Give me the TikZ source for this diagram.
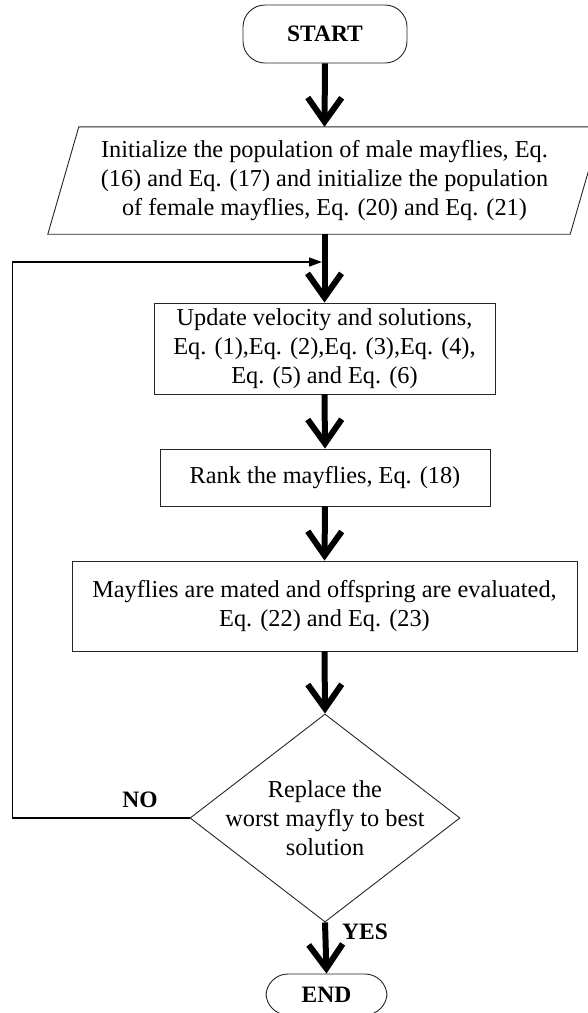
\documentclass[tikz,border=0pt]{standalone}
\usepackage{fontspec}
\setmainfont{Liberation Serif}
\usetikzlibrary{arrows.meta,shapes.geometric,calc}
\begin{document}
\begin{tikzpicture}[x=1pt,y=-1pt,
  boxline/.style={draw=black!85,line width=0.9pt},
  box/.style={boxline,inner sep=0pt,align=center,font=\fontsize{24.3}{29.3}\selectfont},
  plain/.style={inner sep=0pt,align=center,font=\fontsize{24.3}{29.3}\selectfont},
  term/.style={boxline,rounded corners=22pt,inner sep=0pt,font=\fontsize{23.5}{28}\selectfont\bfseries},
  flow/.style={line width=6pt,-{Straight Barb[length=24pt,width=34pt]}},
  back/.style={line width=1.6pt,-{Triangle[length=13pt,width=9pt]}},
  lbl/.style={font=\fontsize{23.5}{28}\selectfont\bfseries,inner sep=0pt}
]
\useasboundingbox (0,0) rectangle (587,1013);
\node[term,minimum width=164pt,minimum height=58pt] (start) at (325,34) {START};
\node[plain,minimum width=553pt,minimum height=107pt] (init) at (324.5,180.5)
  {Initialize the population of male mayflies, Eq.\\(16) and Eq. (17) and initialize the population\\of female mayflies, Eq. (20) and Eq. (21)};
\draw[boxline] (init.south west) -- ($(init.north west)+(31,0)$) -- (init.north east) -- ($(init.south east)+(-31,0)$) -- cycle;
\node[box,minimum width=341pt,minimum height=91pt] (upd) at (324.5,348.5)
  {Update velocity and solutions,\\Eq. (1),Eq. (2),Eq. (3),Eq. (4),\\Eq. (5) and Eq. (6)};
\node[box,minimum width=330pt,minimum height=57pt] (rank) at (325,477.5) {Rank the mayflies, Eq. (18)};
\node[box,minimum width=505pt,minimum height=90pt] (mate) at (324.5,606)
  {Mayflies are mated and offspring are evaluated,\\Eq. (22) and Eq. (23)};
\node[boxline,shape=diamond,minimum width=270pt,minimum height=208pt,inner sep=0pt] (dec) at (325,818) {};
\node[plain] (dectext) at (dec.center) {Replace the\\worst mayfly to best\\solution};
\node[term,minimum width=121pt,minimum height=41pt] (end) at (326.5,994.5) {END};
\coordinate (join) at (322,262);
\draw[flow] (start.south) -- (init.north);
\draw[flow] (init.south) -- (upd.north);
\draw[flow] (upd.south) -- (rank.north);
\draw[flow] (rank.south) -- (mate.north);
\draw[flow] (mate.south) -- (dec.north);
\draw[flow] (dec.south) -- (end.north);
\draw[back] (dec.west) -- ++(-177,0) |- (join);
\node[lbl] (no) at (140,800) {NO};
\node[lbl] (yes) at (365,932) {YES};
\end{tikzpicture}
\end{document}
